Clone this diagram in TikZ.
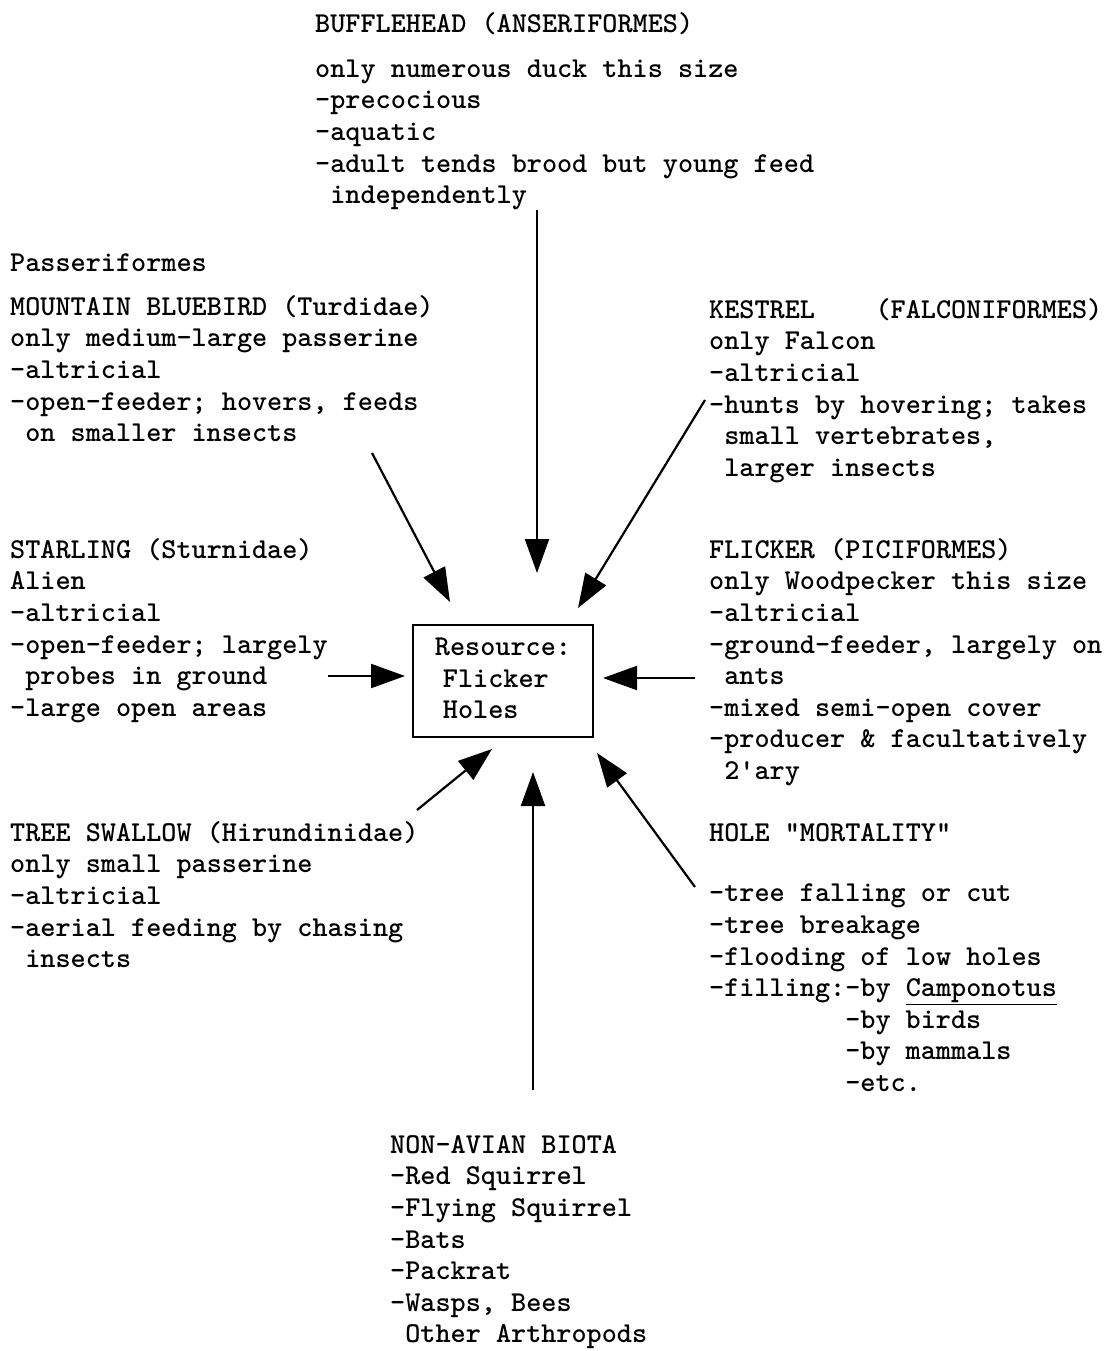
\documentclass[tikz,border=0pt]{standalone}
\usepackage{fontspec}
\usetikzlibrary{arrows.meta}
\newcommand\tw{\fontsize{28.8}{31.6}\selectfont\ttfamily\bfseries}
\tikzset{
  txt/.style={anchor=north west, inner sep=0pt, align=left, font=\tw},
  resbox/.style={draw, line width=2pt, minimum width=180pt, minimum height=112pt, inner sep=0pt, align=left, font=\tw},
  arr/.style={line width=2.2pt, -{Triangle[length=34pt,width=24pt]}}
}
\begin{document}
\begin{tikzpicture}[x=1pt,y=-1pt]
\fill[white] (0,0) rectangle (1118,1351);
\useasboundingbox (0,0) rectangle (1118,1351);

\node[txt] (buffle) at (315,9.9) {\strut BUFFLEHEAD (ANSERIFORMES)\\[13.4pt]
only numerous duck this size\\
-precocious\\
-aquatic\\
-adult tends brood but young feed\\
~independently};

\node[txt] (passer) at (10,248.9) {\strut Passeriformes};

\node[txt] (blue) at (10,292.9) {\strut MOUNTAIN BLUEBIRD (Turdidae)\\
only medium-large passerine\\
-altricial\\
-open-feeder; hovers, feeds\\
~on smaller insects};

\node[txt] (kestrel) at (709,295.9) {\strut KESTREL~~~~(FALCONIFORMES)\\
only Falcon\\
-altricial\\
-hunts by hovering; takes\\
~small vertebrates,\\
~larger insects};

\node[txt] (starling) at (10,535.9) {\strut STARLING (Sturnidae)\\
Alien\\
-altricial\\
-open-feeder; largely\\
~probes in ground\\
-large open areas};

\node[txt] (flicker) at (709,535.9) {\strut FLICKER (PICIFORMES)\\
only Woodpecker this size\\
-altricial\\
-ground-feeder, largely on\\
~ants\\
-mixed semi-open cover\\
-producer \& facultatively\\
~2'ary};

\node[txt] (swallow) at (10,818.9) {\strut TREE SWALLOW (Hirundinidae)\\
only small passerine\\
-altricial\\
-aerial feeding by chasing\\
~insects};

\node[txt] (hole) at (709,818.9) {\strut HOLE "MORTALITY"\\[29pt]
-tree falling or cut\\
-tree breakage\\
-flooding of low holes\\
-filling:-by \underline{Camponotus}\\
\phantom{-filling:}-by birds\\
\phantom{-filling:}-by mammals\\
\phantom{-filling:}-etc.};

\node[txt] (biota) at (390,1130.9) {\strut NON-AVIAN BIOTA\\
-Red Squirrel\\
-Flying Squirrel\\
-Bats\\
-Packrat\\
-Wasps, Bees\\
~Other Arthropods};

\node[resbox] (res) at (503,681) {\strut Resource:\\\hspace*{8pt}Flicker\\\hspace*{8pt}Holes\strut};

\coordinate (a1s) at (537,210);  \coordinate (a1e) at (537,573);
\coordinate (a2s) at (372,453);  \coordinate (a2e) at (450,602);
\coordinate (a3s) at (705,400);  \coordinate (a3e) at (578,608);
\coordinate (a4s) at (328,676);  \coordinate (a4e) at (405,676);
\coordinate (a5s) at (695,678);  \coordinate (a5e) at (603,678);
\coordinate (a6s) at (417,810);  \coordinate (a6e) at (492,749);
\coordinate (a7s) at (533,1090); \coordinate (a7e) at (533,772);
\coordinate (a8s) at (695,887);  \coordinate (a8e) at (597,753);

\draw[arr] (a1s) -- (a1e);
\draw[arr] (a2s) -- (a2e);
\draw[arr] (a3s) -- (a3e);
\draw[arr] (a4s) -- (a4e);
\draw[arr] (a5s) -- (a5e);
\draw[arr] (a6s) -- (a6e);
\draw[arr] (a7s) -- (a7e);
\draw[arr] (a8s) -- (a8e);
\end{tikzpicture}
\end{document}
